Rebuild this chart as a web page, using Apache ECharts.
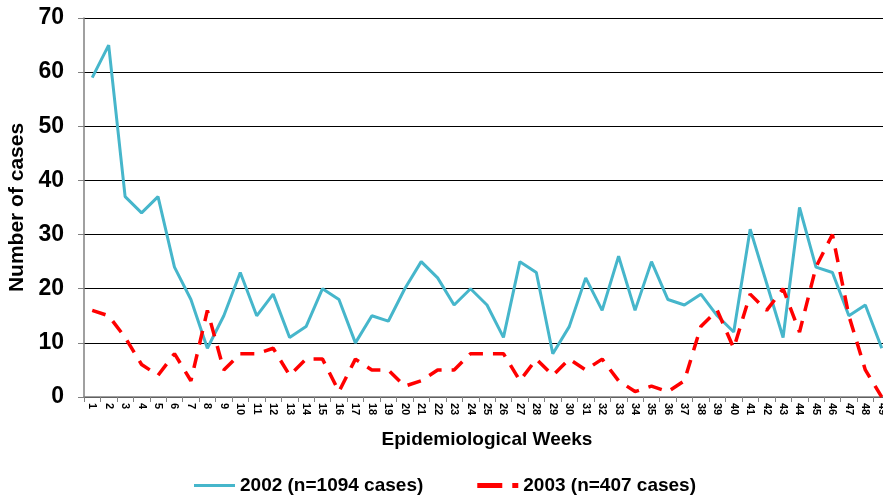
<!DOCTYPE html>
<html>
<head>
<meta charset="utf-8">
<script src="https://cdn.jsdelivr.net/npm/echarts@6/dist/echarts.min.js"></script>
<style>
  body { margin: 0; background: #fff; }
  #main { width: 883px; height: 495px; }
</style>
</head>
<body>
<div id="main"></div>
<script>
const weeks = []
for (let i = 1; i <= 49; i++) weeks.push(String(i))

const cases2002 = [59, 65, 37, 34, 37, 24, 18, 9, 15, 23, 15, 19, 11, 13, 20, 18, 10, 15, 14, 20,
    25, 22, 17, 20, 17, 11, 25, 23, 8, 13, 22, 16, 26, 16, 25, 18, 17, 19, 15, 12,
    31, 21, 11, 35, 24, 23, 15, 17, 9]
const cases2003 = [16, 15, 11, 6, 4, 8, 3, 16, 5, 8, 8, 9, 4, 7, 7, 1, 7, 5, 5, 2,
    3, 5, 5, 8, 8, 8, 3, 7, 4, 7, 5, 7, 3, 1, 2, 1, 3, 13, 16, 9,
    19, 16, 20, 12, 24, 30, 15, 5, 0]

const font = '"Liberation Sans", Arial, sans-serif'

let chart = echarts.init(document.querySelector('#main'), null, { renderer: 'canvas' })
let option = {
    animation: false,
    textStyle: { fontFamily: font },
    grid: {
        left: 84,
        right: -7,
        top: 18,
        bottom: 98,
        outerBoundsMode: 'none',
    },
    legend: {
        bottom: -5,
        left: 189,
        itemGap: 54,
        itemWidth: 41,
        itemHeight: 12,
        textStyle: { fontFamily: font, fontWeight: 'bold', fontSize: 19, color: '#000' },
        data: [
            { name: '2002 (n=1094 cases)', icon: 'path://M0,0L40,0L40,3L0,3Z' },
            { name: '2003 (n=407 cases)', icon: 'path://M0,0L25,0L25,5L0,5ZM35,0L41,0L41,5L35,5Z' },
        ],
    },
    xAxis: {
        type: 'category',
        data: weeks,
        name: 'Epidemiological Weeks',
        nameLocation: 'middle',
        nameGap: 33,
        nameTextStyle: { fontFamily: font, fontWeight: 'bold', fontSize: 19, color: '#000' },
        axisLine: { lineStyle: { color: '#808080', width: 1.5 } },
        axisTick: { show: true, length: 5, lineStyle: { color: '#808080' } },
        axisLabel: {
            rotate: -90,
            interval: 0,
            fontSize: 11,
            fontWeight: 'bold',
            color: '#000',
            margin: 6,
        },
    },
    yAxis: {
        type: 'value',
        min: 0,
        max: 70,
        interval: 10,
        name: 'Number of cases',
        nameLocation: 'middle',
        nameGap: 53,
        nameTextStyle: { fontFamily: font, fontWeight: 'bold', fontSize: 21, color: '#000' },
        axisLine: { show: true, lineStyle: { color: '#808080', width: 1.5 } },
        axisTick: { show: true, length: 6, lineStyle: { color: '#808080' } },
        axisLabel: { fontSize: 23, fontWeight: 'bold', color: '#000', margin: 20 },
        splitLine: { lineStyle: { color: '#000', width: 1 } },
    },
    series: [
        {
            name: '2002 (n=1094 cases)',
            type: 'line',
            data: cases2002,
            symbol: 'none',
            color: '#46b6cb',
            lineStyle: { color: '#46b6cb', width: 3 },
        },
        {
            name: '2003 (n=407 cases)',
            type: 'line',
            data: cases2003,
            symbol: 'none',
            color: '#ff0000',
            lineStyle: { color: '#ff0000', width: 3.5, type: [14, 10] },
        },
    ],
}
chart.setOption(option)
</script>
</body>
</html>
